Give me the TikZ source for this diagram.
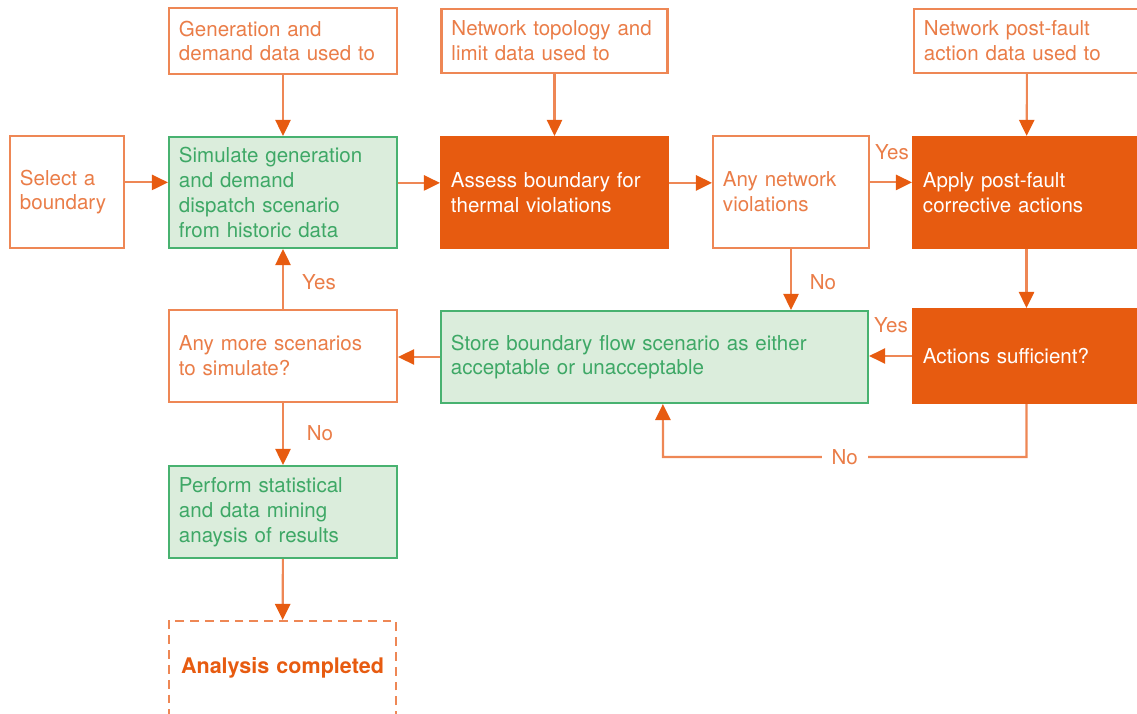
\documentclass[tikz,border=0pt]{standalone}
\usepackage{fontspec}
\setmainfont{TeX Gyre Heros}
\usetikzlibrary{arrows.meta}
\definecolor{fillorange}{RGB}{231,91,16}
\definecolor{lineorange}{RGB}{238,135,85}
\definecolor{txtorange}{RGB}{234,125,72}
\definecolor{greenline}{RGB}{72,178,112}
\definecolor{greenfill}{RGB}{219,237,220}
\definecolor{greentext}{RGB}{62,168,102}
\begin{document}
\begin{tikzpicture}[x=0.025cm,y=-0.025cm,
  box/.style={draw=lineorange, line width=1.5pt, fill=white, text=txtorange, align=left,
              inner xsep=0.25cm, inner ysep=0pt, font=\fontsize{14.6}{17.6}\selectfont},
  greenbox/.style={box, draw=greenline, fill=greenfill, text=greentext},
  orangebox/.style={box, draw=fillorange, fill=fillorange, text=white},
  dashbox/.style={box, dash pattern=on 0.22cm off 0.15cm, align=center,
                  text=fillorange, font=\fontsize{15.3}{17.6}\selectfont\bfseries},
  flow/.style={draw=lineorange, line width=1.5pt,
               -{Triangle[length=0.4cm,width=0.38cm,color=fillorange]}},
  lbl/.style={text=txtorange, font=\fontsize{14.6}{17.6}\selectfont}]
\useasboundingbox (0,0) rectangle (1137,714);

% data inputs
\node[box, text width=5.2cm, minimum height=1.65cm] (gen) at (283,41) {Generation and\\demand data used to};
\node[box, text width=5.15cm, minimum height=1.6cm] (topo) at (554.5,41) {Network topology and\\limit data used to};
\node[box, text width=5.15cm, minimum height=1.6cm] (fault) at (1027,41) {Network post-fault\\action data used to};

% first row
\node[box, text width=2.35cm, minimum height=2.8cm] (select) at (67,192) {Select a\\boundary};
\node[greenbox, text width=5.2cm, minimum height=2.775cm] (sim) at (283,192.5) {Simulate generation\\and demand\\dispatch scenario\\from historic data};
\node[orangebox, text width=5.175cm, minimum height=2.775cm] (assess) at (554.5,192.5) {Assess boundary for\\thermal violations\\[0.2cm]};
\node[box, text width=3.4cm, minimum height=2.8cm] (anynet) at (791,192) {Any network\\violations\\[0.2cm]};
\node[orangebox, text width=5.175cm, minimum height=2.775cm] (apply) at (1026.5,192.5) {Apply post-fault\\corrective actions\\[0.2cm]};

% second row
\node[box, text width=5.2cm, minimum height=2.3cm] (more) at (283,356) {Any more scenarios\\to simulate?};
\node[greenbox, text width=10.175cm, minimum height=2.3cm] (store) at (654.5,357) {Store boundary flow scenario as either\\acceptable or unacceptable};
\node[orangebox, text width=5.175cm, minimum height=2.35cm] (suff) at (1026.5,356) {Actions sufficient?};

% results
\node[greenbox, text width=5.2cm, minimum height=2.3cm] (perf) at (283,512) {Perform statistical\\and data mining\\anaysis of results};
\node[dashbox, text width=5.175cm, minimum height=2.35cm] (done) at (282.5,668) {Analysis completed};

% connectors
\draw[flow] (gen) -- (sim);
\draw[flow] (topo) -- (assess);
\draw[flow] (fault) -- (apply);
\draw[flow] ([yshift=0.24cm]select.east) -- ([yshift=0.24cm]select.east -| sim.west);
\draw[flow] ([yshift=0.24cm]sim.east) -- ([yshift=0.24cm]sim.east -| assess.west);
\draw[flow] ([yshift=0.24cm]assess.east) -- ([yshift=0.24cm]assess.east -| anynet.west);
\draw[flow] ([yshift=0.24cm]anynet.east) -- ([yshift=0.24cm]anynet.east -| apply.west);
\draw[flow] (anynet.south) -- (anynet.south |- store.north);
\draw[flow] (apply) -- (suff);
\draw[flow] (suff.west) -- (suff.west -| store.east);
\draw[flow] (suff.south) |- (663,457) node[lbl, fill=white, inner xsep=0.25cm, pos=0.75] {No}
            -- ([xshift=0.21cm]store.south);
\draw[flow] (store.west) -- (store.west -| more.east);
\draw[flow] (more) -- (sim);
\draw[flow] (more) -- (perf);
\draw[flow] (perf) -- (done);

% labels
\node[lbl] (yes1) at (892,152) {Yes};
\node[lbl] (no1) at (823,282) {No};
\node[lbl] (yes2) at (891,325) {Yes};
\node[lbl] (yes3) at (319,282) {Yes};
\node[lbl] (no3) at (320,433) {No};
\end{tikzpicture}
\end{document}
